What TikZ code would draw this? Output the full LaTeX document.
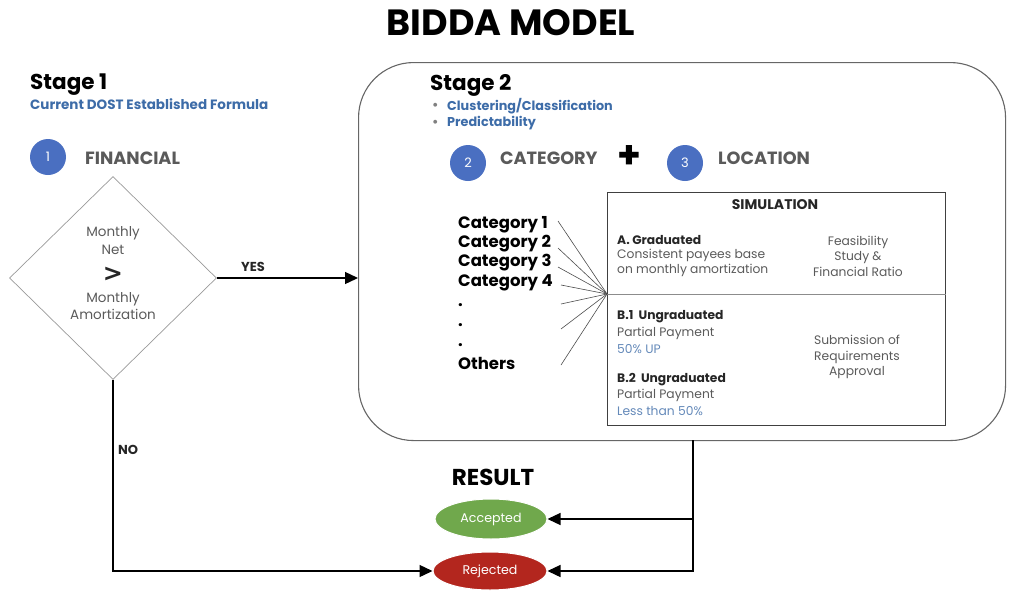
\documentclass[tikz,border=0pt]{standalone}
\usepackage{fontspec}
\setmainfont{Poppins}
\newfontfamily\gtfont{DejaVu Sans}
\usetikzlibrary{shapes.geometric,arrows.meta}
\definecolor{cblue}{HTML}{4A6FC1}
\definecolor{tblue}{HTML}{3D6CA8}
\definecolor{tgray}{HTML}{5A5A5A}
\definecolor{cgreen}{HTML}{70A84C}
\definecolor{cred}{HTML}{B3261E}
\begin{document}
\begin{tikzpicture}[x=1pt,y=-1pt,
  num/.style={circle, fill=cblue, minimum size=36pt, inner sep=0pt, text=white, font=\fontsize{13}{13}\selectfont},
  head/.style={font=\fontsize{17.7}{18}\selectfont\bfseries, text=tgray, anchor=west, inner sep=0pt},
  stagehd/.style={font=\fontsize{21.5}{22}\selectfont\bfseries, anchor=west, inner sep=0pt},
  sub/.style={font=\fontsize{12.8}{14}\selectfont\bfseries, text=tblue, anchor=west, inner sep=0pt},
  cat/.style={font=\fontsize{16.5}{18}\selectfont\bfseries, anchor=west, inner sep=0pt},
  dtext/.style={font=\fontsize{13.5}{14}\selectfont, text=tgray, inner sep=0pt},
  sm/.style={font=\fontsize{12.3}{15}\selectfont, text=tgray, anchor=west, inner sep=0pt},
  smb/.style={font=\fontsize{12.3}{15}\selectfont\bfseries, text=black!85, anchor=west, inner sep=0pt},
  smc/.style={font=\fontsize{12.3}{15.5}\selectfont, text=tgray, align=center, inner sep=0pt},
  lbl/.style={font=\fontsize{13}{14}\selectfont\bfseries, text=black!85, inner sep=0pt},
  arr/.style={-{Triangle[length=13pt,width=12pt]}, line width=1.3pt},
  fan/.style={line width=0.6pt, draw=black!70},
  res/.style={ellipse, draw=white, line width=1pt, text=white, font=\fontsize{12.6}{14}\selectfont, inner sep=0pt}
]
\useasboundingbox (0,0) rectangle (1012,592);

% title
\node[font=\fontsize{36.5}{36}\selectfont\bfseries, inner sep=0pt] (title) at (511,23) {BIDDA MODEL};

% stage 1
\node[stagehd] (s1) at (30,85) {Stage 1};
\node[sub, font=\fontsize{13.5}{14}\selectfont\bfseries] (s1sub) at (30,104) {Current DOST Established Formula};
\node[num] (c1) at (48,157) {1};
\node[head] (fin) at (85,158) {FINANCIAL};

\node[draw=gray!80, diamond, minimum width=207pt, minimum height=203pt, inner sep=0pt, line width=0.7pt] (dia) at (113,278) {};
\node[dtext] (dm1) at (113,233) {Monthly};
\node[dtext] (dnet) at (113,250) {Net};
\node[dtext, font=\gtfont\fontsize{24}{24}\selectfont\bfseries, text=black!85] (dgt) at (113,274) {>};
\node[dtext] (dm2) at (113,299) {Monthly};
\node[dtext] (dam) at (113,314) {Amortization};

% stage 2 container
\node[draw=gray!80!black, line width=1.1pt, rounded corners=55pt, minimum width=647pt, minimum height=378pt, anchor=north west, inner sep=0pt] (s2) at (358,62) {};
\node[stagehd] (s2hd) at (430,85) {Stage 2};
\node[sub, text=gray] (b1) at (432,106) {\textbullet};
\node[sub] (s2a) at (447,106) {Clustering/Classification};
\node[sub, text=gray] (b2) at (432,123) {\textbullet};
\node[sub] (s2b) at (447,123) {Predictability};

\node[num] (c2) at (468,163) {2};
\node[head] (catg) at (500,158) {CATEGORY};
\node[font=\fontsize{38}{38}\selectfont\bfseries, inner sep=0pt] (plus) at (629,157) {+};
\node[num] (c3) at (685,163) {3};
\node[head] (loc) at (718,158) {LOCATION};

% categories
\node[cat] (k1) at (458,225) {Category 1};
\node[cat] (k2) at (458,244) {Category 2};
\node[cat] (k3) at (458,263) {Category 3};
\node[cat] (k4) at (458,283) {Category 4};
\node[cat] (d1) at (458,305) {.};
\node[cat] (d2) at (458,325) {.};
\node[cat] (d3) at (458,345) {.};
\node[cat] (oth) at (458,363) {Others};

% simulation box
\node[draw=black!75, line width=0.8pt, minimum width=338pt, minimum height=233pt, anchor=north west, inner sep=0pt] (sim) at (607,192) {};
\coordinate (conv) at (607,294);
\draw[draw=black!45, line width=0.6pt] (conv) -- (conv -| sim.east);
\node[font=\fontsize{14}{15}\selectfont\bfseries, text=black!85, inner sep=0pt] (simt) at (775,205) {SIMULATION};

\node[smb] (ga) at (617,240) {A. Graduated};
\node[sm] (ga1) at (617,255) {Consistent payees base};
\node[sm] (ga2) at (617,270) {on monthly amortization};
\node[smc] (fs) at (858,256) {Feasibility\\Study \&\\Financial Ratio};

\node[smb] (ub1) at (617,317) {B.1\ \ Ungraduated};
\node[sm] (ub1a) at (617,333) {Partial Payment};
\node[sm, text=tblue!80] (ub1b) at (617,349) {50\% UP};
\node[smb] (ub2) at (617,380) {B.2\ \ Ungraduated};
\node[sm] (ub2a) at (617,395) {Partial Payment};
\node[sm, text=tblue!80] (ub2b) at (617,411) {Less than 50\%};
\node[smc] (sr) at (857,357) {Submission of\\Requirements\\Approval};

% fan lines
\coordinate (f1) at (558,221);
\coordinate (f2) at (558,248);
\coordinate (f3) at (558,267);
\coordinate (f4) at (561,285);
\coordinate (f5) at (561,304);
\coordinate (f6) at (561,329);
\coordinate (f7) at (561,365);
\foreach \f in {f1,f2,f3,f4,f5,f6,f7} \draw[fan] (\f) -- (conv);

% yes / no
\draw[arr] (dia.east) -- (dia.east -| s2.west);
\node[lbl] (yes) at (253,267) {YES};

% result
\node[font=\fontsize{23}{23}\selectfont\bfseries, inner sep=0pt] (result) at (493,477) {RESULT};
\node[res, fill=cgreen, minimum width=112pt, minimum height=40pt] (acc) at (491,519) {Accepted};
\node[res, fill=cred, minimum width=114pt, minimum height=38pt] (rej) at (490,571) {Rejected};

\coordinate (s2out) at (693,440);
\draw[arr] (s2out) |- (acc.east);
\draw[arr] (s2out) |- (rej.east);
\draw[arr] (dia.south) |- (rej.west);
\node[lbl] (no) at (128,450) {NO};
\end{tikzpicture}
\end{document}
